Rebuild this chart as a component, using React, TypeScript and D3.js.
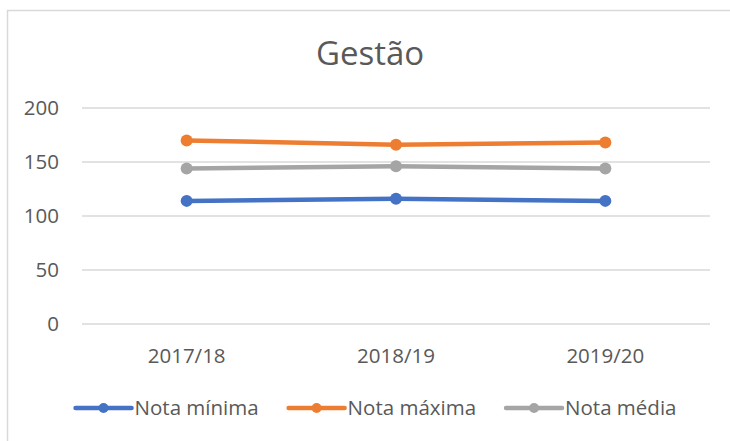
import React, { useEffect, useRef } from 'react';
import * as d3 from 'd3';

const categories = ['2017/18', '2018/19', '2019/20'];
const seriesNames = ['Nota mínima', 'Nota máxima', 'Nota média'];
const notaMinima = [114, 116, 114];
const notaMaxima = [170, 166, 168];
const notaMedia = [144, 146, 144];
const yTicks = [0, 50, 100, 150, 200];

const colors = ['#4472C4', '#ED7D31', '#A5A5A5'];

export default function App() {
  const svgRef = useRef<SVGSVGElement>(null);

  useEffect(() => {
    if (!svgRef.current) return;
    const svg = d3.select(svgRef.current);
    svg.selectAll('*').remove();

    const width = 730;
    const height = 441;
    const font = '"Open Sans", sans-serif';
    const textColor = '#595959';
    const labelSize = 20.5;

    // chart frame (right/bottom edges fall outside the picture)
    svg.append('path')
      .attr('d', `M7.5,${height} V10.5 H${width}`)
      .attr('fill', 'none')
      .attr('stroke', '#D9D9D9')
      .attr('stroke-width', 1.5);

    svg.append('text')
      .attr('x', 370)
      .attr('y', 65)
      .attr('text-anchor', 'middle')
      .attr('font-family', font)
      .attr('font-size', 33)
      .attr('fill', textColor)
      .text('Gestão');

    const x = d3.scaleBand<string>().domain(categories).range([82, 710]);
    const y = d3.scaleLinear().domain([0, 200]).range([324, 108]);

    // gridlines + y labels
    yTicks.forEach(t => {
      svg.append('line')
        .attr('x1', 82)
        .attr('x2', 710)
        .attr('y1', y(t))
        .attr('y2', y(t))
        .attr('stroke', '#D9D9D9')
        .attr('stroke-width', 1.3);
      svg.append('text')
        .attr('x', 59)
        .attr('y', y(t))
        .attr('dy', '0.35em')
        .attr('text-anchor', 'end')
        .attr('font-family', font)
        .attr('font-size', labelSize)
        .attr('fill', textColor)
        .text(t);
    });

    categories.forEach(c => {
      svg.append('text')
        .attr('x', x(c)! + x.bandwidth() / 2)
        .attr('y', 356)
        .attr('dy', '0.35em')
        .attr('text-anchor', 'middle')
        .attr('font-family', font)
        .attr('font-size', labelSize)
        .attr('fill', textColor)
        .text(c);
    });

    const allSeries = [notaMinima, notaMaxima, notaMedia];
    const line = d3.line<number>()
      .x((_, i) => x(categories[i])! + x.bandwidth() / 2)
      .y(d => y(d));

    allSeries.forEach((vals, s) => {
      svg.append('path')
        .datum(vals)
        .attr('d', line)
        .attr('fill', 'none')
        .attr('stroke', colors[s])
        .attr('stroke-width', 4.5)
        .attr('stroke-linecap', 'round');
      vals.forEach((v, i) => {
        svg.append('circle')
          .attr('cx', x(categories[i])! + x.bandwidth() / 2)
          .attr('cy', y(v))
          .attr('r', 6)
          .attr('fill', colors[s]);
      });
    });

    // legend
    const legend = svg.append('g');
    let cursor = 0;
    const gap = 30;
    seriesNames.forEach((name, s) => {
      const g = legend.append('g').attr('transform', `translate(${cursor},0)`);
      g.append('line')
        .attr('x1', 0).attr('x2', 56)
        .attr('y1', 0).attr('y2', 0)
        .attr('stroke', colors[s])
        .attr('stroke-width', 4.5)
        .attr('stroke-linecap', 'round');
      g.append('circle').attr('cx', 28).attr('cy', 0).attr('r', 5).attr('fill', colors[s]);
      const txt = g.append('text')
        .attr('x', 59)
        .attr('y', 0)
        .attr('dy', '0.35em')
        .attr('font-family', font)
        .attr('font-size', labelSize)
        .attr('fill', textColor)
        .text(name);
      const w = (txt.node() as SVGTextElement).getComputedTextLength();
      cursor += 59 + w + gap;
    });
    const total = cursor - gap;
    legend.attr('transform', `translate(${376 - total / 2},408)`);

    svg.attr('width', width).attr('height', height);
  }, []);

  return (
    <svg
      ref={svgRef}
      width={730}
      height={441}
      style={{ position: 'absolute', left: 0, top: 0, background: '#fff' }}
    />
  );
}
